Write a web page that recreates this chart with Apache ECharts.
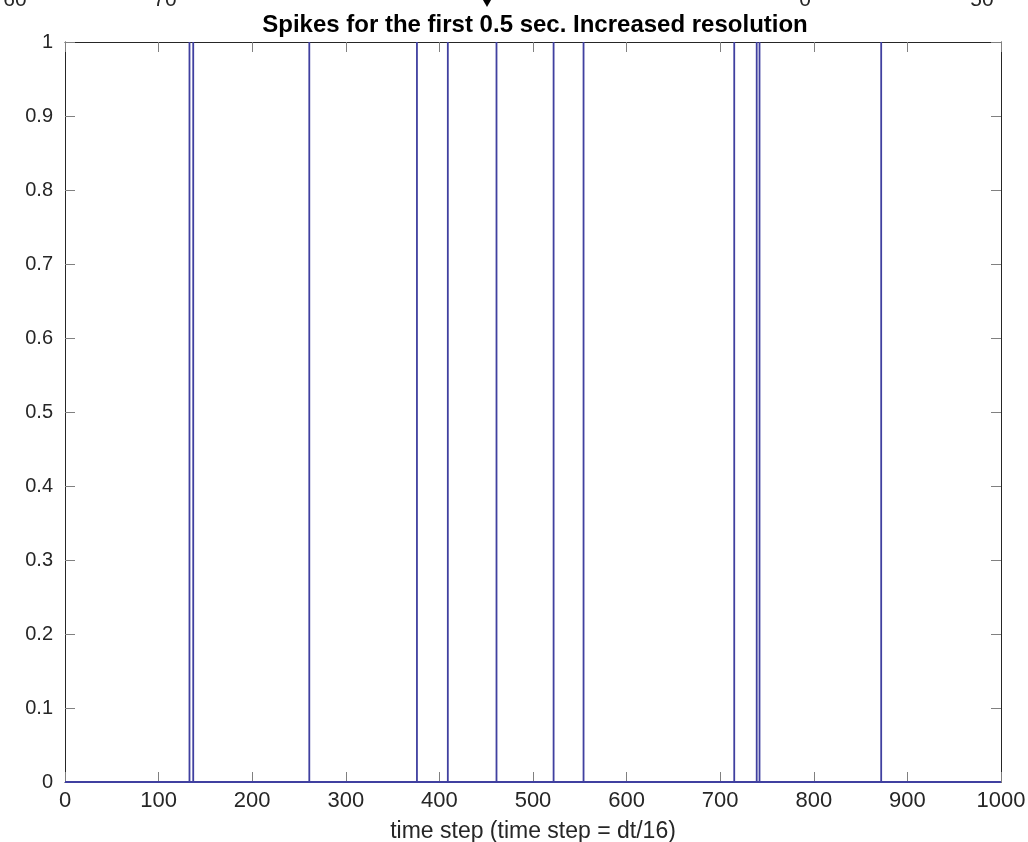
<!DOCTYPE html>
<html>
<head>
<meta charset="utf-8">
<script src="https://cdn.jsdelivr.net/npm/echarts@6/dist/echarts.min.js"></script>
<style>
  html, body { margin: 0; padding: 0; background: #fff; }
  #chart { width: 1028px; height: 842px; }
</style>
</head>
<body>
<div id="chart"></div>
<script>
// Spike times (time-step index) within the first 1000 steps
const spikeTimes = [133, 137, 261, 376, 409, 461, 522, 554, 715, 739, 742, 872];
const xTicks = [0, 100, 200, 300, 400, 500, 600, 700, 800, 900, 1000];
const yTicks = [0, 0.1, 0.2, 0.3, 0.4, 0.5, 0.6, 0.7, 0.8, 0.9, 1];
// Labels of a neighbouring axis that peek in along the top edge
const strayTopLabels = [
  { text: '60', x: 15 },
  { text: '70', x: 165 },
  { text: '0', x: 805 },
  { text: '50', x: 982 }
];

const FONT = '"Liberation Sans", Arial, Helvetica, sans-serif';
const AXIS = '#262626';
const TICK = '#808080';

// Spike train as a line that jumps to 1 at every spike time
const trace = [[0, 0]];
spikeTimes.forEach(t => { trace.push([t, 0], [t, 1], [t, 0]); });
trace.push([1000, 0]);

const chart = echarts.init(document.getElementById('chart'), null, { renderer: 'canvas' });

// Top and right edges of the box: line plus inward ticks, no labels
const boxEdge = {
  axisLabel: { show: false },
  axisLine: { show: true, onZero: false, lineStyle: { color: AXIS, width: 1 } },
  axisTick: { show: true, inside: true, length: 10, lineStyle: { color: TICK, width: 1 } },
  splitLine: { show: false }
};

chart.setOption({
  animation: false,
  backgroundColor: '#ffffff',
  title: {
    text: 'Spikes for the first 0.5 sec. Increased resolution',
    left: 530, top: 8, textAlign: 'center',
    textStyle: { fontFamily: FONT, fontSize: 24, fontWeight: 'bold', color: '#000' }
  },
  grid: { left: 65, right: 27, top: 42, bottom: 60, containLabel: false, outerBoundsMode: 'none' },
  xAxis: [
    {
      type: 'value', min: 0, max: 1000, interval: 100, position: 'bottom',
      name: 'time step (time step = dt/16)', nameLocation: 'middle', nameGap: 38,
      nameTextStyle: { fontFamily: FONT, fontSize: 23, color: AXIS },
      axisLine: { show: true, onZero: false, lineStyle: { color: AXIS, width: 1 } },
      axisTick: { show: true, inside: true, length: 10, lineStyle: { color: TICK, width: 1 } },
      axisLabel: {
        fontFamily: FONT, fontSize: 22, color: AXIS, margin: 8,
        formatter: v => xTicks.includes(v) ? String(v) : ''
      },
      splitLine: { show: false }
    },
    Object.assign({ type: 'value', min: 0, max: 1000, interval: 100, position: 'top' }, boxEdge)
  ],
  yAxis: [
    {
      type: 'value', min: 0, max: 1, interval: 0.1, position: 'left',
      axisLine: { show: true, onZero: false, lineStyle: { color: AXIS, width: 1 } },
      axisTick: { show: true, inside: true, length: 10, lineStyle: { color: TICK, width: 1 } },
      axisLabel: {
        fontFamily: FONT, fontSize: 20, color: AXIS, margin: 12,
        formatter: v => {
          const r = Math.round(v * 10) / 10;
          return yTicks.includes(r) ? String(r) : '';
        }
      },
      splitLine: { show: false }
    },
    Object.assign({ type: 'value', min: 0, max: 1, interval: 0.1, position: 'right' }, boxEdge)
  ],
  series: [{
    type: 'line',
    data: trace,
    showSymbol: false,
    symbol: 'none',
    lineStyle: { color: '#4040a0', width: 1.8 },
    xAxisIndex: 0, yAxisIndex: 0,
    z: 1
  }],
  graphic: strayTopLabels.map(l => ({
    type: 'text', x: l.x, y: -10,
    style: { text: l.text, font: '21px ' + FONT, fill: AXIS, textAlign: 'center', textVerticalAlign: 'top' }
  })).concat([{
    type: 'polygon',
    shape: { points: [[483, 0], [491, 0], [487, 7]] },
    style: { fill: '#000' }
  }])
});
</script>
</body>
</html>
